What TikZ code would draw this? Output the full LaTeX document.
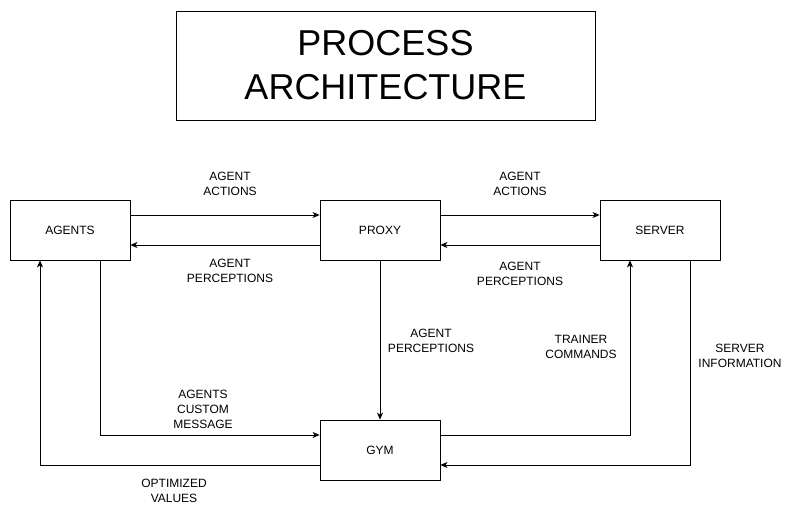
\documentclass[tikz,border=0pt]{standalone}
\usepackage{fontspec}
\setmainfont{Liberation Sans}
\usetikzlibrary{arrows.meta}
\begin{document}
\begin{tikzpicture}[x=1pt,y=-1pt,
  box/.style={draw,line width=0.8pt,minimum width=120pt,minimum height=60pt,inner sep=0pt,font=\fontsize{12}{14}\selectfont},
  lbl/.style={align=center,inner sep=0pt,font=\fontsize{12}{15}\selectfont},
  conn/.style={line width=0.8pt,-{Stealth[length=7pt,width=6pt,inset=2pt]}}]
\useasboundingbox (0,0) rectangle (793,515);
\node[draw,line width=0.8pt,minimum width=419pt,minimum height=109pt,inner sep=0pt,align=center,font=\fontsize{36}{44}\selectfont] (title) at (385.5,65.5) {PROCESS\\ARCHITECTURE};
\node[box] (agents) at (70,230) {AGENTS};
\node[box] (proxy) at (380,230) {PROXY};
\node[box] (server) at (660,230) {SERVER};
\node[box] (gym) at (380,450) {GYM};
\coordinate (c1) at (100,435);
\coordinate (c2) at (40,465);
\coordinate (c3) at (630,435);
\coordinate (c4) at (690,465);
\draw[conn] (agents.east |- 0,215) -- (proxy.west |- 0,215);
\draw[conn] (proxy.west |- 0,245) -- (agents.east |- 0,245);
\draw[conn] (proxy.east |- 0,215) -- (server.west |- 0,215);
\draw[conn] (server.west |- 0,245) -- (proxy.east |- 0,245);
\draw[conn] (proxy.south) -- (gym.north);
\draw[conn] (agents.south -| c1) -- (c1) -- (gym.west |- c1);
\draw[conn] (gym.west |- c2) -- (c2) -- (agents.south -| c2);
\draw[conn] (gym.east |- c3) -- (c3) -- (server.south -| c3);
\draw[conn] (server.south -| c4) -- (c4) -- (gym.east |- c4);
\node[lbl] (l1) at (230,184) {AGENT\\ACTIONS};
\node[lbl] (l2) at (230,271) {AGENT\\PERCEPTIONS};
\node[lbl] (l3) at (520,184) {AGENT\\ACTIONS};
\node[lbl] (l4) at (520,274) {AGENT\\PERCEPTIONS};
\node[lbl] (l5) at (431,341) {AGENT\\PERCEPTIONS};
\node[lbl] (l6) at (581,347) {TRAINER\\COMMANDS};
\node[lbl] (l7) at (740,356) {SERVER\\INFORMATION};
\node[lbl] (l8) at (203,409) {AGENTS\\CUSTOM\\MESSAGE};
\node[lbl] (l9) at (174,491) {OPTIMIZED\\VALUES};
\end{tikzpicture}
\end{document}
